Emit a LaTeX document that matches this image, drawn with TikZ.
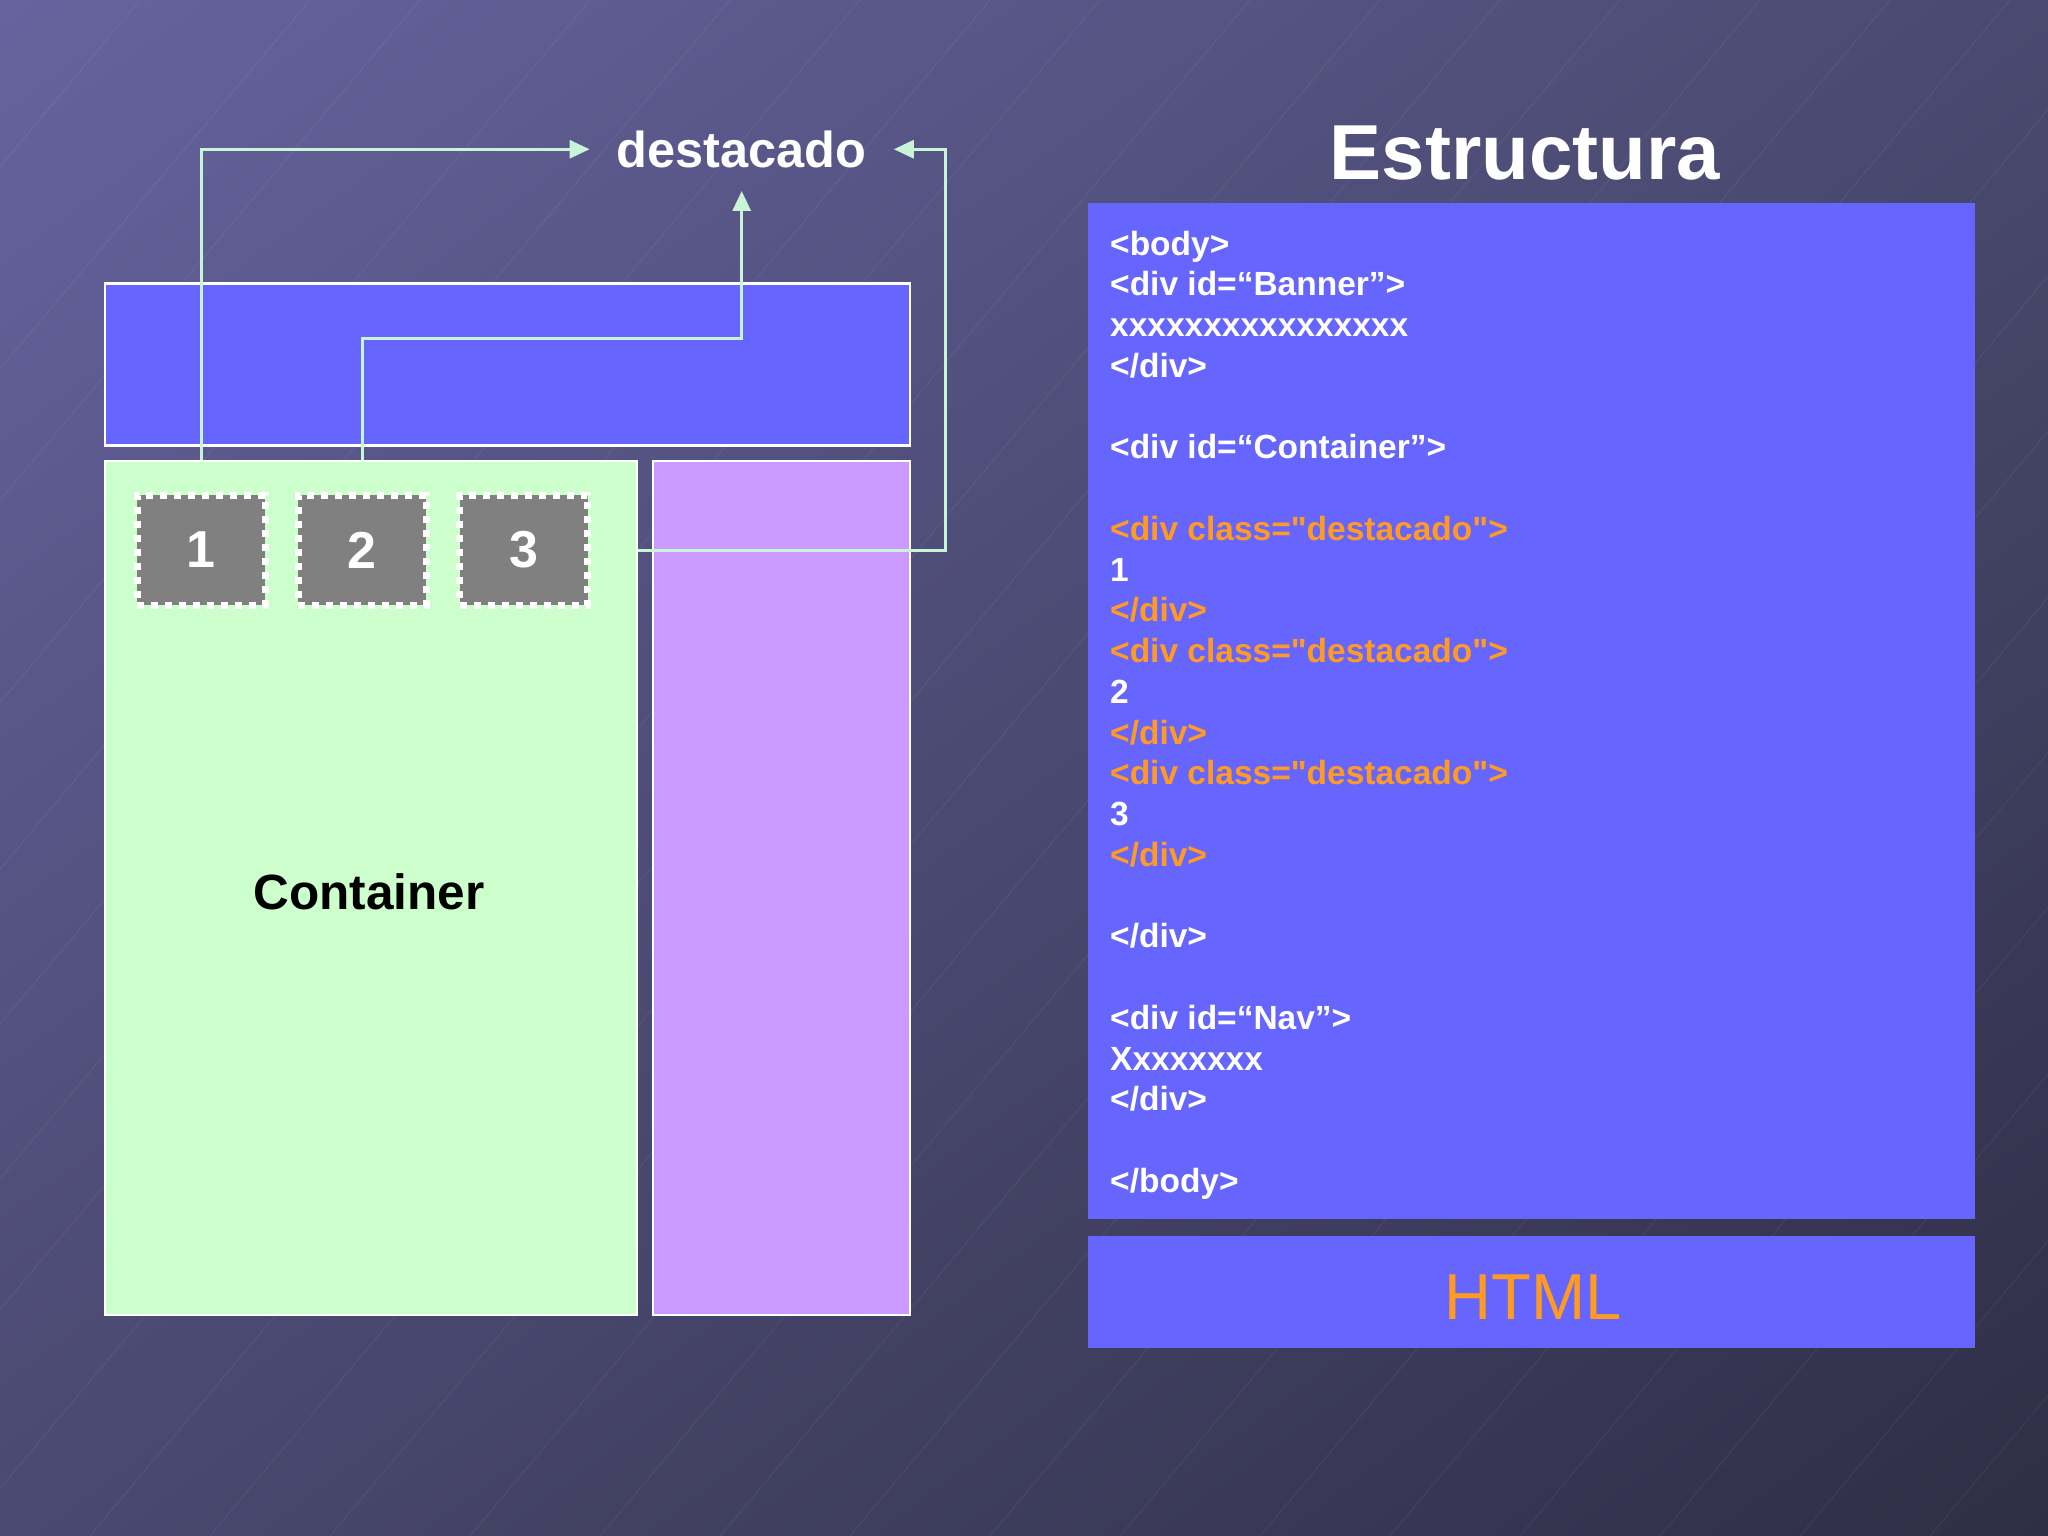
\documentclass[tikz,border=0pt]{standalone}
\usepackage{fontspec}
\setmainfont{Liberation Sans}
\newfontfamily\codefont{Liberation Sans}[Ligatures=TeXOff]
\usetikzlibrary{arrows.meta,shadings}
\definecolor{bgTL}{HTML}{66639E}
\definecolor{bgTR}{HTML}{4A4A70}
\definecolor{bgBL}{HTML}{4A4970}
\definecolor{bgBR}{HTML}{2E2E46}
\definecolor{boxblue}{HTML}{6666FF}
\definecolor{boxgreen}{HTML}{CCFFCC}
\definecolor{boxpurple}{HTML}{CC99FF}
\definecolor{boxgray}{HTML}{808080}
\definecolor{codeorange}{HTML}{FF9A22}
\definecolor{mint}{HTML}{C8F5D5}
\tikzset{
  layoutbox/.style={draw=white, line width=2.5bp, inner sep=0pt},
  plainbox/.style={draw=none, inner sep=0pt},
  divbox/.style={draw=white, line width=7bp, dash pattern=on 7bp off 7bp, fill=boxgray,
    minimum width=128bp, minimum height=110bp, inner sep=0pt, text=white,
    font=\fontsize{52bp}{52bp}\selectfont\bfseries},
  conn/.style={draw=mint, line width=3bp, -{Triangle[length=20bp,width=18bp]}},
  codeline/.style={anchor=base west, inner sep=0pt, text=white,
    font=\fontsize{33.5bp}{40bp}\codefont\bfseries},
  codeorg/.style={codeline, text=codeorange},
  bgline/.style={draw=white, opacity=0.05, line width=1.2bp}
}
\begin{document}
\begin{tikzpicture}[x=1bp,y=-1bp]
\useasboundingbox (0,0) rectangle (2048,1536);
% background
\shade[upper left=bgTL, upper right=bgTR, lower left=bgBL, lower right=bgBR] (0,0) rectangle (2048,1536);
\begin{scope}
\clip (0,0) rectangle (2048,1536);
\foreach \s in {-1150,-980,-870,-700,-560,-430,-300,-190,-40,90,210,330,470,600,720,850,990,1120,1260,1390,1520,1660,1800,1930,2070,2200}
  \draw[bgline] (\s,1536) -- ++(1290,-1536);
\end{scope}

% left layout
\node (banner) [layoutbox, fill=boxblue, minimum width=805bp, minimum height=162bp] at (507.5,364.5) {};
\node (container) [layoutbox, fill=boxgreen, minimum width=532bp, minimum height=854bp] at (371,888) {};
\node (nav) [layoutbox, fill=boxpurple, minimum width=257bp, minimum height=854bp] at (781.5,888) {};
\node (box1) [divbox] at (201,550) {1};
\node (box2) [divbox] at (362,550) {2};
\node (box3) [divbox] at (523.5,550) {3};
\node (ctext) [inner sep=0pt, anchor=base, font=\fontsize{49.5bp}{50bp}\selectfont\bfseries] at (369,909) {Container};

\node (dest) [anchor=base, inner xsep=27bp, inner ysep=23bp, text=white,
  font=\fontsize{50.5bp}{51bp}\selectfont\bfseries] at (741.7,167.3) {destacado};

% right side
\node (title) [anchor=base, inner sep=0pt, text=white, font=\fontsize{78bp}{80bp}\selectfont\bfseries] at (1525,180) {Estructura};
\node (code) [plainbox, fill=boxblue, minimum width=887bp, minimum height=1016bp] at (1531.5,711) {};
\node (html) [plainbox, fill=boxblue, minimum width=887bp, minimum height=112bp] at (1531.5,1292) {};
\node (htmltext) [anchor=base, inner sep=0pt, text=codeorange, font=\fontsize{65bp}{66bp}\selectfont] at (1533,1319.3) {HTML};

\node (c0)  [codeline] at (1110,255.0)  {<body>};
\node (c1)  [codeline] at (1110,295.75) {<div id=“Banner”>};
\node (c2)  [codeline] at (1110,336.5)  {xxxxxxxxxxxxxxxx};
\node (c3)  [codeline] at (1110,377.25) {</div>};
\node (c5)  [codeline] at (1110,458.75) {<div id=“Container”>};
\node (c7)  [codeorg]  at (1110,540.25) {<div class="destacado">};
\node (c8)  [codeline] at (1110,581.0)  {1};
\node (c9)  [codeorg]  at (1110,621.75) {</div>};
\node (c10) [codeorg]  at (1110,662.5)  {<div class="destacado">};
\node (c11) [codeline] at (1110,703.25) {2};
\node (c12) [codeorg]  at (1110,744.0)  {</div>};
\node (c13) [codeorg]  at (1110,784.75) {<div class="destacado">};
\node (c14) [codeline] at (1110,825.5)  {3};
\node (c15) [codeorg]  at (1110,866.25) {</div>};
\node (c17) [codeline] at (1110,947.75) {</div>};
\node (c19) [codeline] at (1110,1029.25) {<div id=“Nav”>};
\node (c20) [codeline] at (1110,1070.0) {Xxxxxxxx};
\node (c21) [codeline] at (1110,1110.75) {</div>};
\node (c23) [codeline] at (1110,1192.25) {</body>};

% connectors
\draw[conn] (container.north -| box1) |- (dest.west);
\draw[conn] (container.north -| box2) -- ++(0,-121.4) -| (dest.south);
\draw[conn] (container.east |- box3) -- ++(307,0) |- (dest.east);
\end{tikzpicture}
\end{document}
